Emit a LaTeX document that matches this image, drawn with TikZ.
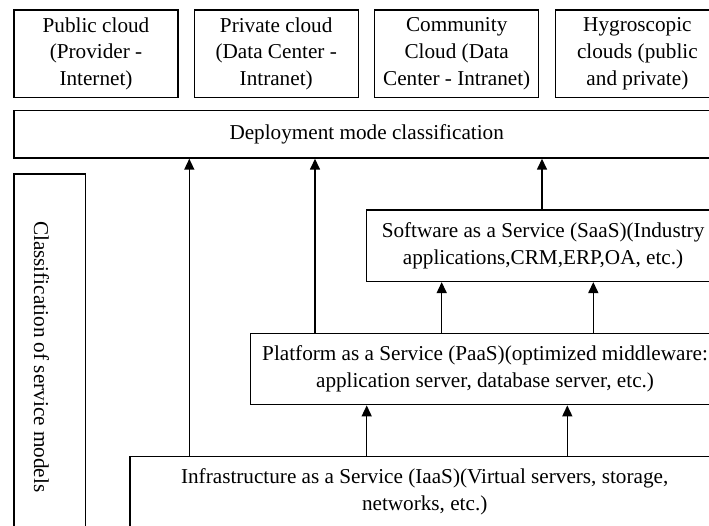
\documentclass[tikz,border=0pt]{standalone}
\usepackage{fontspec}
\setmainfont{Liberation Serif}
\usetikzlibrary{arrows.meta}
\begin{document}
\begin{tikzpicture}[x=1pt,y=-1pt,
  txt/.style={font=\fontsize{21.2}{26.7}\selectfont},
  box/.style={draw=black,line width=1.4pt,anchor=north west,inner sep=0pt,align=center,txt},
  arr/.style={line width=1.5pt,-{Triangle[length=11pt,width=10pt]}}]
\useasboundingbox (0,0) rectangle (709,525);
\fill[white] (0,0) rectangle (709,525);
\clip (0,0) rectangle (709,525);
% top deployment boxes
\node[box,minimum width=164pt,minimum height=87.4pt] (pub) at (13.3,9.3) {Public cloud\\(Provider -\\Internet)};
\node[box,minimum width=164pt,minimum height=87.4pt] (priv) at (193.5,9.3) {Private cloud\\(Data Center -\\Intranet)};
\node[box,minimum width=164pt,minimum height=87.4pt] (comm) at (374,9.3) {Community\\Cloud (Data\\Center - Intranet)};
\node[box,minimum width=164pt,minimum height=87.4pt] (hyg) at (554.7,9.3) {Hygroscopic\\clouds (public\\and private)};
% deployment classification
\node[box,minimum width=705.4pt,minimum height=47.3pt] (deploy) at (13.3,110) {Deployment mode classification};
% service model label
\node[box,minimum width=71.7pt,minimum height=366.7pt] (cls) at (13.3,173.3) {};
\node[txt,rotate=-90,inner sep=0pt] (clstext) at (41.5,356.7) {Classification of service models};
% service boxes
\node[box,minimum width=352.7pt,minimum height=71.4pt] (saas) at (366,209.3) {Software as a Service (SaaS)(Industry\\applications,CRM,ERP,OA, etc.)};
\node[box,minimum width=468.7pt,minimum height=71.3pt] (paas) at (250,332.7) {Platform as a Service (PaaS)(optimized middleware:\\application server, database server, etc.)};
\node[box,minimum width=589.4pt,minimum height=70pt] (iaas) at (129.3,456) {Infrastructure as a Service (IaaS)(Virtual servers, storage,\\networks, etc.)};
% arrow columns
\coordinate (c1) at (189.3,0);
\coordinate (c2) at (315,0);
\coordinate (c3) at (542,0);
\coordinate (c4) at (441.7,0);
\coordinate (c5) at (593.3,0);
\coordinate (c6) at (366.7,0);
\coordinate (c7) at (567.3,0);
\draw[arr] (iaas.north -| c1) -- (deploy.south -| c1);
\draw[arr] (paas.north -| c2) -- (deploy.south -| c2);
\draw[arr] (saas.north -| c3) -- (deploy.south -| c3);
\draw[arr] (paas.north -| c4) -- (saas.south -| c4);
\draw[arr] (paas.north -| c5) -- (saas.south -| c5);
\draw[arr] (iaas.north -| c6) -- (paas.south -| c6);
\draw[arr] (iaas.north -| c7) -- (paas.south -| c7);
\end{tikzpicture}
\end{document}
